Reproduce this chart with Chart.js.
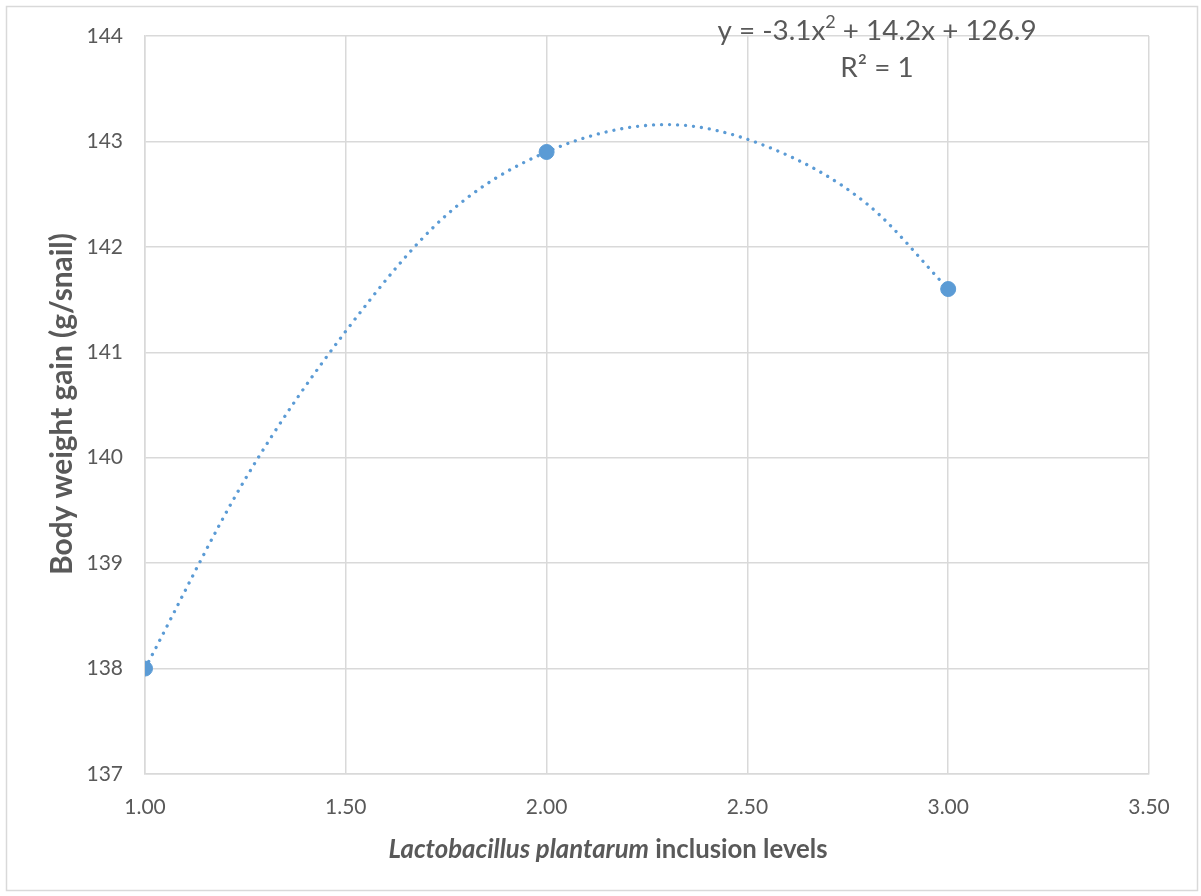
<!DOCTYPE html>
<html>
<head>
<meta charset="utf-8">
<script src="https://cdn.jsdelivr.net/npm/chart.js@4/dist/chart.umd.min.js"></script>
<style>
  html, body { margin: 0; padding: 0; background: #ffffff; }
  #wrap { width: 1201px; height: 896px; }
</style>
</head>
<body>
<div id="wrap"><canvas id="myChart" width="1201" height="896"></canvas></div>
<script>
// ===== DATA =====
// observed points
let levels = [1.00, 2.00, 3.00];
let weightGain = [138.0, 142.9, 141.6];

// dotted trendline
let trendX = [1.00, 1.25, 1.50, 1.75, 2.00, 2.30, 2.55, 2.80, 3.00];
let trendY = [138.0, 139.8, 141.2, 142.3, 142.9, 143.16, 142.95, 142.4, 141.6];

// axis text
let xTitleItalic = "Lactobacillus plantarum";
let xTitlePlain = " inclusion levels";
let yTitle = "Body weight gain (g/snail)";
let eqLine1 = ["y = -3.1x", "2", " + 14.2x + 126.9"];
let eqLine2 = "R² = 1";

const FONT = "Lato, 'Open Sans', sans-serif";
const GREY = "#595959";
const GRID = "#d9d9d9";
const BLUE = "#5b9bd5";

// font size that makes text fill a given width
function fitSize(ctx, style, text, target) {
    ctx.font = style + " 20px " + FONT;
    return 20 * target / ctx.measureText(text).width;
}

// text drawn on top of the chart (axis titles, equation, outer border)
const extraText = {
    id: "extraText",
    afterDraw(chart) {
        let ctx = chart.ctx;
        ctx.save();

        // outer chart border
        ctx.strokeStyle = GRID;
        ctx.lineWidth = 1.5;
        ctx.strokeRect(6.5, 6.5, 1191, 884);

        ctx.fillStyle = GREY;
        ctx.textBaseline = "middle";

        // y axis title
        let ys = fitSize(ctx, "bold", yTitle, 342);
        ctx.save();
        ctx.translate(62, 404);
        ctx.rotate(-Math.PI / 2);
        ctx.font = "bold " + ys + "px " + FONT;
        ctx.textAlign = "center";
        ctx.fillText(yTitle, 0, 0);
        ctx.restore();

        // x axis title, italic part + plain part
        let xs = fitSize(ctx, "bold", xTitleItalic + xTitlePlain, 450);
        ctx.font = "italic bold " + xs + "px " + FONT;
        let w1 = ctx.measureText(xTitleItalic).width;
        ctx.font = "bold " + xs + "px " + FONT;
        let w2 = ctx.measureText(xTitlePlain).width;
        let x0 = 608 - (w1 + w2) / 2;
        ctx.textAlign = "left";
        ctx.font = "italic bold " + xs + "px " + FONT;
        ctx.fillText(xTitleItalic, x0, 850);
        ctx.font = "bold " + xs + "px " + FONT;
        ctx.fillText(xTitlePlain, x0 + w1, 850);

        // trendline equation
        let es = fitSize(ctx, "", eqLine1.join(""), 325);
        drawSup(ctx, eqLine1, 877, 31, es);
        ctx.font = es + "px " + FONT;
        ctx.textAlign = "center";
        ctx.fillText(eqLine2, 877, 68);

        ctx.restore();
    }
};

// draws [base, superscript, rest] centred at cx
function drawSup(ctx, parts, cx, cy, size) {
    let big = size + "px " + FONT;
    let small = Math.round(size * 0.65) + "px " + FONT;
    ctx.font = big;
    let a = ctx.measureText(parts[0]).width;
    let c = ctx.measureText(parts[2]).width;
    ctx.font = small;
    let b = ctx.measureText(parts[1]).width;
    let x = cx - (a + b + c) / 2;
    ctx.textAlign = "left";
    ctx.font = big;
    ctx.fillText(parts[0], x, cy);
    ctx.font = small;
    ctx.fillText(parts[1], x + a, cy - size * 0.3);
    ctx.font = big;
    ctx.fillText(parts[2], x + a + b, cy);
}

function plotGraph() {
    let ctx = document.getElementById("myChart").getContext("2d");

    new Chart(ctx, {
        type: "scatter",
        data: {
            datasets: [{
                label: "Body weight gain",
                data: levels.map((x, i) => ({ x: x, y: weightGain[i] })),
                backgroundColor: BLUE,
                borderColor: BLUE,
                pointRadius: 7.5,
                pointHoverRadius: 7.5,
                showLine: false,
                order: 0
            }, {
                label: "Poly. trend",
                data: trendX.map((x, i) => ({ x: x, y: trendY[i] })),
                borderColor: BLUE,
                borderWidth: 3.3,
                borderDash: [0.01, 8],
                borderCapStyle: "round",
                cubicInterpolationMode: "monotone",
                pointRadius: 0,
                showLine: true,
                fill: false,
                order: 1
            }]
        },
        options: {
            responsive: false,
            animation: false,
            layout: { padding: { left: 0, top: 36, right: 52, bottom: 0 } },
            plugins: {
                legend: { display: false },
                tooltip: { enabled: false }
            },
            scales: {
                x: {
                    type: "linear",
                    min: 1,
                    max: 3.5,
                    afterFit: s => { s.height = 122; },
                    ticks: {
                        stepSize: 0.5,
                        padding: 21,
                        color: GREY,
                        font: { family: FONT, size: 21 },
                        callback: v => v.toFixed(2)
                    },
                    grid: { color: GRID, lineWidth: 1.5, drawTicks: false },
                    border: { color: GRID, width: 1.5 }
                },
                y: {
                    min: 137,
                    max: 144,
                    afterFit: s => { s.width = 145; },
                    ticks: {
                        stepSize: 1,
                        padding: 22,
                        color: GREY,
                        font: { family: FONT, size: 21 }
                    },
                    grid: { color: GRID, lineWidth: 1.5, drawTicks: false },
                    border: { color: GRID, width: 1.5 }
                }
            }
        },
        plugins: [extraText]
    });
}

plotGraph();
</script>
</body>
</html>
